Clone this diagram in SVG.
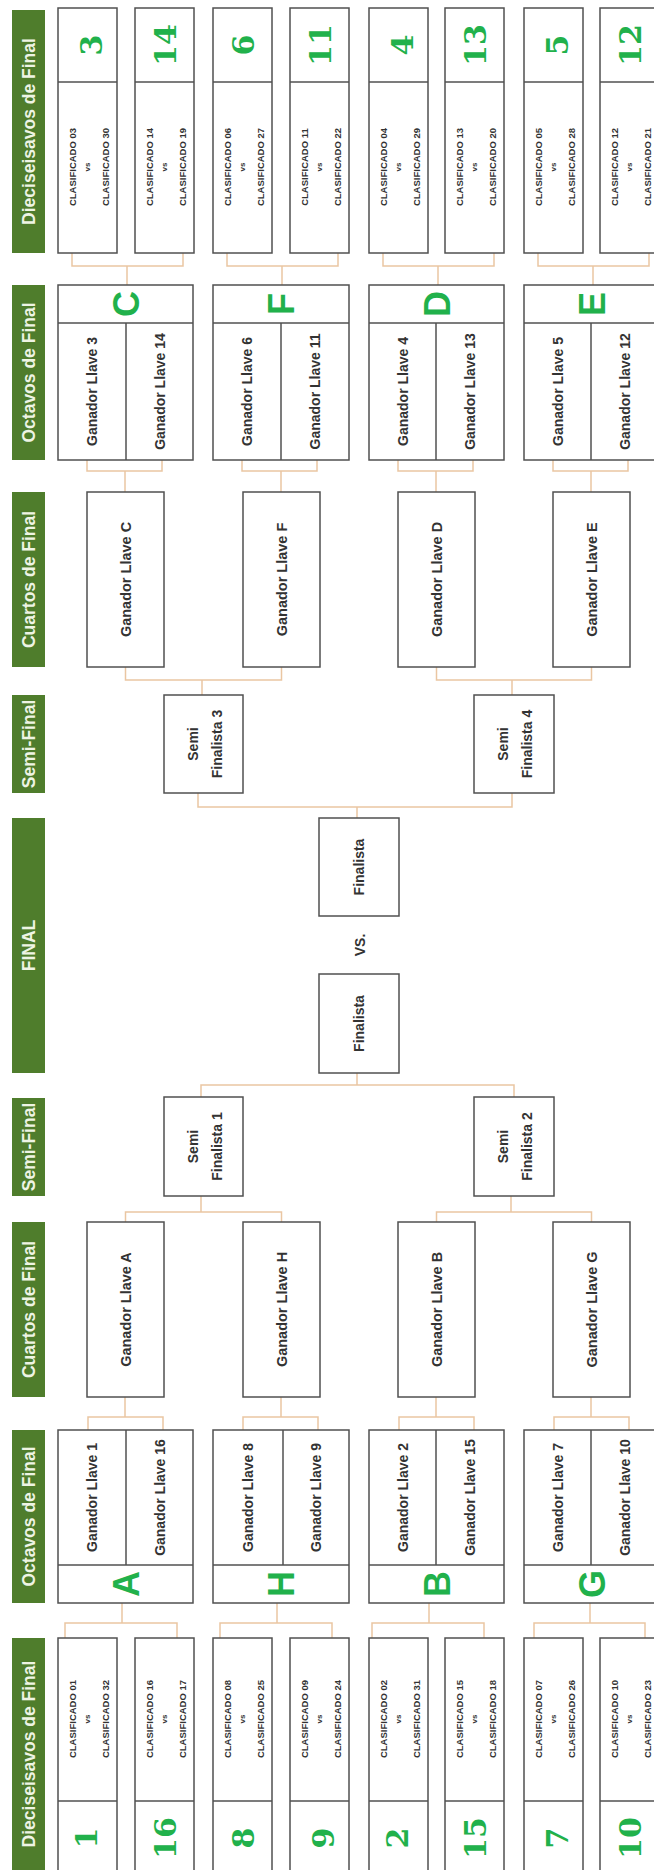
<svg xmlns="http://www.w3.org/2000/svg" width="654" height="1870" viewBox="0 0 654 1870">
<style>
.hdr{fill:#4f7d2c}
.ht{font-family:"Liberation Sans",Arial,sans-serif;font-weight:bold;font-size:17.5px;fill:#eef4e4;text-anchor:middle}
.box{fill:#fff;stroke:#505050;stroke-width:1.5}
.ln{stroke:#505050;stroke-width:1.5;fill:none}
.cl{font-family:"Liberation Sans",Arial,sans-serif;font-weight:bold;font-size:9.5px;fill:#333;text-anchor:middle}
.vs{font-family:"Liberation Sans",Arial,sans-serif;font-weight:bold;font-size:8px;fill:#333;text-anchor:middle}
.num{font-family:"DejaVu Serif",serif;font-weight:bold;font-size:30px;fill:#21b14b;text-anchor:middle}
.let{font-family:"Liberation Sans",Arial,sans-serif;font-weight:bold;font-size:36px;fill:#21b14b;text-anchor:middle}
.g{font-family:"Liberation Sans",Arial,sans-serif;font-weight:bold;font-size:14px;fill:#333;text-anchor:middle}
.q{font-family:"Liberation Sans",Arial,sans-serif;font-weight:bold;font-size:14.5px;fill:#333;text-anchor:middle}
.con{fill:none;stroke:#eac6a2;stroke-width:1.5}
</style>
<rect width="654" height="1870" fill="#fff"/>

<g id="headers">
<rect class="hdr" x="12" y="10" width="33" height="243"/>
<text class="ht" transform="translate(35,131.5) rotate(-90)">Dieciseisavos de Final</text>
<rect class="hdr" x="12" y="285" width="33" height="175"/>
<text class="ht" transform="translate(35,372.5) rotate(-90)">Octavos de Final</text>
<rect class="hdr" x="12" y="492" width="33" height="175"/>
<text class="ht" transform="translate(35,579.5) rotate(-90)">Cuartos de Final</text>
<rect class="hdr" x="12" y="695" width="33" height="98"/>
<text class="ht" transform="translate(35,744) rotate(-90)">Semi-Final</text>
<rect class="hdr" x="12" y="818" width="33" height="255"/>
<text class="ht" transform="translate(35,945.5) rotate(-90)">FINAL</text>
<rect class="hdr" x="12" y="1098" width="33" height="98"/>
<text class="ht" transform="translate(35,1147) rotate(-90)">Semi-Final</text>
<rect class="hdr" x="12" y="1222" width="33" height="175"/>
<text class="ht" transform="translate(35,1309.5) rotate(-90)">Cuartos de Final</text>
<rect class="hdr" x="12" y="1430" width="33" height="173"/>
<text class="ht" transform="translate(35,1516.5) rotate(-90)">Octavos de Final</text>
<rect class="hdr" x="12" y="1638" width="33" height="242"/>
<text class="ht" transform="translate(35,1754) rotate(-90)">Dieciseisavos de Final</text>
</g>

<g id="connectors">
<!-- top dieciseisavos -> octavos -->
<path class="con" d="M72,253V266H183V253M127,266V285"/>
<path class="con" d="M227,253V266H338V253M282,266V285"/>
<path class="con" d="M383,253V266H494V253M438,266V285"/>
<path class="con" d="M538,253V266H649V253M593,266V285"/>
<!-- top octavos -> cuartos -->
<path class="con" d="M87,460V471H162V460M125,471V492"/>
<path class="con" d="M242,460V471H317V460M281,471V492"/>
<path class="con" d="M398,460V471H473V460M436,471V492"/>
<path class="con" d="M553,460V471H628V460M591,471V492"/>
<!-- top cuartos -> semi -->
<path class="con" d="M125.5,667V680H281.5V667M202,680V695"/>
<path class="con" d="M436.5,667V680H591.5V667M512,680V695"/>
<!-- semi -> final (top) -->
<path class="con" d="M198,793V807H512V793M357,807V818"/>
<!-- final -> semi (bottom) -->
<path class="con" d="M357,1073V1085M201,1097V1085H514V1097"/>
<!-- bottom semi -> cuartos -->
<path class="con" d="M201,1196V1212M125.5,1222V1212H281.5V1222"/>
<path class="con" d="M511,1196V1212M436.5,1222V1212H591.5V1222"/>
<!-- bottom cuartos -> octavos -->
<path class="con" d="M125,1397V1417M88,1430V1417H163V1430"/>
<path class="con" d="M281,1397V1417M243,1430V1417H318V1430"/>
<path class="con" d="M436,1397V1417M399,1430V1417H474V1430"/>
<path class="con" d="M591,1397V1417M554,1430V1417H629V1430"/>
<!-- bottom octavos -> dieciseisavos -->
<path class="con" d="M122,1603V1623M65,1638V1623H177V1638"/>
<path class="con" d="M277,1603V1623M220,1638V1623H332V1638"/>
<path class="con" d="M429,1603V1623M372,1638V1623H484V1638"/>
<path class="con" d="M590,1603V1623M534,1638V1623H645V1638"/>
</g>

<!-- TOP DIECISEISAVOS -->
<g id="d3">
<rect class="box" x="58" y="8" width="59" height="245"/><line class="ln" x1="58" y1="82" x2="117" y2="82"/>
<text class="num" transform="translate(101.5,45) rotate(-90)">3</text>
<text class="cl" transform="translate(75.5,167) rotate(-90)">CLASIFICADO 03</text>
<text class="vs" transform="translate(90,167) rotate(-90)">vs</text>
<text class="cl" transform="translate(108.5,167) rotate(-90)">CLASIFICADO 30</text>
</g>
<g id="d14">
<rect class="box" x="135" y="8" width="59" height="245"/><line class="ln" x1="135" y1="82" x2="194" y2="82"/>
<text class="num" transform="translate(175.5,45) rotate(-90)">14</text>
<text class="cl" transform="translate(152.5,167) rotate(-90)">CLASIFICADO 14</text>
<text class="vs" transform="translate(167,167) rotate(-90)">vs</text>
<text class="cl" transform="translate(185.5,167) rotate(-90)">CLASIFICADO 19</text>
</g>
<g id="d6">
<rect class="box" x="213" y="8" width="59" height="245"/><line class="ln" x1="213" y1="82" x2="272" y2="82"/>
<text class="num" transform="translate(253.5,45) rotate(-90)">6</text>
<text class="cl" transform="translate(230.5,167) rotate(-90)">CLASIFICADO 06</text>
<text class="vs" transform="translate(245,167) rotate(-90)">vs</text>
<text class="cl" transform="translate(263.5,167) rotate(-90)">CLASIFICADO 27</text>
</g>
<g id="d11">
<rect class="box" x="290" y="8" width="59" height="245"/><line class="ln" x1="290" y1="82" x2="349" y2="82"/>
<text class="num" transform="translate(330.5,45) rotate(-90)">11</text>
<text class="cl" transform="translate(307.5,167) rotate(-90)">CLASIFICADO 11</text>
<text class="vs" transform="translate(322,167) rotate(-90)">vs</text>
<text class="cl" transform="translate(340.5,167) rotate(-90)">CLASIFICADO 22</text>
</g>
<g id="d4">
<rect class="box" x="369" y="8" width="59" height="245"/><line class="ln" x1="369" y1="82" x2="428" y2="82"/>
<text class="num" transform="translate(412.5,45) rotate(-90)">4</text>
<text class="cl" transform="translate(386.5,167) rotate(-90)">CLASIFICADO 04</text>
<text class="vs" transform="translate(401,167) rotate(-90)">vs</text>
<text class="cl" transform="translate(419.5,167) rotate(-90)">CLASIFICADO 29</text>
</g>
<g id="d13">
<rect class="box" x="445" y="8" width="59" height="245"/><line class="ln" x1="445" y1="82" x2="504" y2="82"/>
<text class="num" transform="translate(485.5,45) rotate(-90)">13</text>
<text class="cl" transform="translate(462.5,167) rotate(-90)">CLASIFICADO 13</text>
<text class="vs" transform="translate(477,167) rotate(-90)">vs</text>
<text class="cl" transform="translate(495.5,167) rotate(-90)">CLASIFICADO 20</text>
</g>
<g id="d5">
<rect class="box" x="524" y="8" width="59" height="245"/><line class="ln" x1="524" y1="82" x2="583" y2="82"/>
<text class="num" transform="translate(567.5,45) rotate(-90)">5</text>
<text class="cl" transform="translate(541.5,167) rotate(-90)">CLASIFICADO 05</text>
<text class="vs" transform="translate(556,167) rotate(-90)">vs</text>
<text class="cl" transform="translate(574.5,167) rotate(-90)">CLASIFICADO 28</text>
</g>
<g id="d12">
<rect class="box" x="600" y="8" width="59" height="245"/><line class="ln" x1="600" y1="82" x2="659" y2="82"/>
<text class="num" transform="translate(640.5,45) rotate(-90)">12</text>
<text class="cl" transform="translate(617.5,167) rotate(-90)">CLASIFICADO 12</text>
<text class="vs" transform="translate(632,167) rotate(-90)">vs</text>
<text class="cl" transform="translate(650.5,167) rotate(-90)">CLASIFICADO 21</text>
</g>

<!-- TOP OCTAVOS -->
<g id="oC">
<rect class="box" x="58" y="285" width="135" height="175"/>
<line class="ln" x1="58" y1="323" x2="193" y2="323"/><line class="ln" x1="126" y1="323" x2="126" y2="460"/>
<text class="let" transform="translate(138.5,304) rotate(-90)">C</text>
<text class="g" transform="translate(97,391.5) rotate(-90)">Ganador Llave 3</text>
<text class="g" transform="translate(164.5,391.5) rotate(-90)">Ganador Llave 14</text>
</g>
<g id="oF">
<rect class="box" x="213" y="285" width="136" height="175"/>
<line class="ln" x1="213" y1="323" x2="349" y2="323"/><line class="ln" x1="281" y1="323" x2="281" y2="460"/>
<text class="let" transform="translate(294,304) rotate(-90)">F</text>
<text class="g" transform="translate(252,391.5) rotate(-90)">Ganador Llave 6</text>
<text class="g" transform="translate(320,391.5) rotate(-90)">Ganador Llave 11</text>
</g>
<g id="oD">
<rect class="box" x="369" y="285" width="135" height="175"/>
<line class="ln" x1="369" y1="323" x2="504" y2="323"/><line class="ln" x1="436" y1="323" x2="436" y2="460"/>
<text class="let" transform="translate(449.5,304) rotate(-90)">D</text>
<text class="g" transform="translate(407.5,391.5) rotate(-90)">Ganador Llave 4</text>
<text class="g" transform="translate(475,391.5) rotate(-90)">Ganador Llave 13</text>
</g>
<g id="oE">
<rect class="box" x="524" y="285" width="135" height="175"/>
<line class="ln" x1="524" y1="323" x2="659" y2="323"/><line class="ln" x1="591" y1="323" x2="591" y2="460"/>
<text class="let" transform="translate(604.5,304) rotate(-90)">E</text>
<text class="g" transform="translate(562.5,391.5) rotate(-90)">Ganador Llave 5</text>
<text class="g" transform="translate(630,391.5) rotate(-90)">Ganador Llave 12</text>
</g>

<!-- TOP CUARTOS -->
<g id="qC"><rect class="box" x="87" y="492" width="77" height="175"/>
<text class="q" transform="translate(131,579.5) rotate(-90)">Ganador Llave C</text></g>
<g id="qF"><rect class="box" x="243" y="492" width="77" height="175"/>
<text class="q" transform="translate(286.5,579.5) rotate(-90)">Ganador Llave F</text></g>
<g id="qD"><rect class="box" x="398" y="492" width="77" height="175"/>
<text class="q" transform="translate(441.5,579.5) rotate(-90)">Ganador Llave D</text></g>
<g id="qE"><rect class="box" x="553" y="492" width="77" height="175"/>
<text class="q" transform="translate(596.5,579.5) rotate(-90)">Ganador Llave E</text></g>

<!-- TOP SEMIS -->
<g id="s3"><rect class="box" x="164" y="695" width="79" height="98"/>
<text class="g" transform="translate(198,744) rotate(-90)">Semi</text>
<text class="g" transform="translate(222,744) rotate(-90)">Finalista 3</text></g>
<g id="s4"><rect class="box" x="474" y="695" width="80" height="98"/>
<text class="g" transform="translate(508,744) rotate(-90)">Semi</text>
<text class="g" transform="translate(532,744) rotate(-90)">Finalista 4</text></g>

<!-- FINAL -->
<g id="f1"><rect class="box" x="319" y="818" width="80" height="98"/>
<text class="g" transform="translate(364,867) rotate(-90)">Finalista</text></g>
<g id="vs"><text class="g" transform="translate(365,945) rotate(-90)">VS.</text></g>
<g id="f2"><rect class="box" x="319" y="974" width="80" height="99"/>
<text class="g" transform="translate(364,1023.5) rotate(-90)">Finalista</text></g>

<!-- BOTTOM SEMIS -->
<g id="s1"><rect class="box" x="164" y="1097" width="79" height="99"/>
<text class="g" transform="translate(198,1146.5) rotate(-90)">Semi</text>
<text class="g" transform="translate(222,1146.5) rotate(-90)">Finalista 1</text></g>
<g id="s2"><rect class="box" x="474" y="1097" width="80" height="99"/>
<text class="g" transform="translate(508,1146.5) rotate(-90)">Semi</text>
<text class="g" transform="translate(532,1146.5) rotate(-90)">Finalista 2</text></g>

<!-- BOTTOM CUARTOS -->
<g id="qA"><rect class="box" x="87" y="1222" width="77" height="175"/>
<text class="q" transform="translate(131,1309.5) rotate(-90)">Ganador Llave A</text></g>
<g id="qH"><rect class="box" x="243" y="1222" width="77" height="175"/>
<text class="q" transform="translate(286.5,1309.5) rotate(-90)">Ganador Llave H</text></g>
<g id="qB"><rect class="box" x="398" y="1222" width="77" height="175"/>
<text class="q" transform="translate(441.5,1309.5) rotate(-90)">Ganador Llave B</text></g>
<g id="qG"><rect class="box" x="553" y="1222" width="77" height="175"/>
<text class="q" transform="translate(596.5,1309.5) rotate(-90)">Ganador Llave G</text></g>

<!-- BOTTOM OCTAVOS -->
<g id="oA">
<rect class="box" x="58" y="1430" width="135" height="173"/>
<line class="ln" x1="58" y1="1565" x2="193" y2="1565"/><line class="ln" x1="126" y1="1430" x2="126" y2="1565"/>
<text class="let" transform="translate(138.5,1584) rotate(-90)">A</text>
<text class="g" transform="translate(97,1497.5) rotate(-90)">Ganador Llave 1</text>
<text class="g" transform="translate(164.5,1497.5) rotate(-90)">Ganador Llave 16</text>
</g>
<g id="oH">
<rect class="box" x="213" y="1430" width="136" height="173"/>
<line class="ln" x1="213" y1="1565" x2="349" y2="1565"/><line class="ln" x1="283" y1="1430" x2="283" y2="1565"/>
<text class="let" transform="translate(294,1584) rotate(-90)">H</text>
<text class="g" transform="translate(253,1497.5) rotate(-90)">Ganador Llave 8</text>
<text class="g" transform="translate(321,1497.5) rotate(-90)">Ganador Llave 9</text>
</g>
<g id="oB">
<rect class="box" x="369" y="1430" width="135" height="173"/>
<line class="ln" x1="369" y1="1565" x2="504" y2="1565"/><line class="ln" x1="436" y1="1430" x2="436" y2="1565"/>
<text class="let" transform="translate(449.5,1584) rotate(-90)">B</text>
<text class="g" transform="translate(407.5,1497.5) rotate(-90)">Ganador Llave 2</text>
<text class="g" transform="translate(475,1497.5) rotate(-90)">Ganador Llave 15</text>
</g>
<g id="oG">
<rect class="box" x="524" y="1430" width="135" height="173"/>
<line class="ln" x1="524" y1="1565" x2="659" y2="1565"/><line class="ln" x1="591" y1="1430" x2="591" y2="1565"/>
<text class="let" transform="translate(604.5,1584) rotate(-90)">G</text>
<text class="g" transform="translate(562.5,1497.5) rotate(-90)">Ganador Llave 7</text>
<text class="g" transform="translate(630,1497.5) rotate(-90)">Ganador Llave 10</text>
</g>

<!-- BOTTOM DIECISEISAVOS -->
<g id="d1">
<rect class="box" x="58" y="1638" width="59" height="240"/><line class="ln" x1="58" y1="1801" x2="117" y2="1801"/>
<text class="num" transform="translate(96.5,1838) rotate(-90)">1</text>
<text class="cl" transform="translate(75.5,1719) rotate(-90)">CLASIFICADO 01</text>
<text class="vs" transform="translate(90,1719) rotate(-90)">vs</text>
<text class="cl" transform="translate(108.5,1719) rotate(-90)">CLASIFICADO 32</text>
</g>
<g id="d16">
<rect class="box" x="135" y="1638" width="59" height="240"/><line class="ln" x1="135" y1="1801" x2="194" y2="1801"/>
<text class="num" transform="translate(175.5,1838) rotate(-90)">16</text>
<text class="cl" transform="translate(152.5,1719) rotate(-90)">CLASIFICADO 16</text>
<text class="vs" transform="translate(167,1719) rotate(-90)">vs</text>
<text class="cl" transform="translate(185.5,1719) rotate(-90)">CLASIFICADO 17</text>
</g>
<g id="d8">
<rect class="box" x="213" y="1638" width="59" height="240"/><line class="ln" x1="213" y1="1801" x2="272" y2="1801"/>
<text class="num" transform="translate(253.5,1838) rotate(-90)">8</text>
<text class="cl" transform="translate(230.5,1719) rotate(-90)">CLASIFICADO 08</text>
<text class="vs" transform="translate(245,1719) rotate(-90)">vs</text>
<text class="cl" transform="translate(263.5,1719) rotate(-90)">CLASIFICADO 25</text>
</g>
<g id="d9">
<rect class="box" x="290" y="1638" width="59" height="240"/><line class="ln" x1="290" y1="1801" x2="349" y2="1801"/>
<text class="num" transform="translate(333.5,1838) rotate(-90)">9</text>
<text class="cl" transform="translate(307.5,1719) rotate(-90)">CLASIFICADO 09</text>
<text class="vs" transform="translate(322,1719) rotate(-90)">vs</text>
<text class="cl" transform="translate(340.5,1719) rotate(-90)">CLASIFICADO 24</text>
</g>
<g id="d2">
<rect class="box" x="369" y="1638" width="59" height="240"/><line class="ln" x1="369" y1="1801" x2="428" y2="1801"/>
<text class="num" transform="translate(407.5,1838) rotate(-90)">2</text>
<text class="cl" transform="translate(386.5,1719) rotate(-90)">CLASIFICADO 02</text>
<text class="vs" transform="translate(401,1719) rotate(-90)">vs</text>
<text class="cl" transform="translate(419.5,1719) rotate(-90)">CLASIFICADO 31</text>
</g>
<g id="d15">
<rect class="box" x="445" y="1638" width="59" height="240"/><line class="ln" x1="445" y1="1801" x2="504" y2="1801"/>
<text class="num" transform="translate(485.5,1838) rotate(-90)">15</text>
<text class="cl" transform="translate(462.5,1719) rotate(-90)">CLASIFICADO 15</text>
<text class="vs" transform="translate(477,1719) rotate(-90)">vs</text>
<text class="cl" transform="translate(495.5,1719) rotate(-90)">CLASIFICADO 18</text>
</g>
<g id="d7">
<rect class="box" x="524" y="1638" width="59" height="240"/><line class="ln" x1="524" y1="1801" x2="583" y2="1801"/>
<text class="num" transform="translate(567.5,1838) rotate(-90)">7</text>
<text class="cl" transform="translate(541.5,1719) rotate(-90)">CLASIFICADO 07</text>
<text class="vs" transform="translate(556,1719) rotate(-90)">vs</text>
<text class="cl" transform="translate(574.5,1719) rotate(-90)">CLASIFICADO 26</text>
</g>
<g id="d10">
<rect class="box" x="600" y="1638" width="59" height="240"/><line class="ln" x1="600" y1="1801" x2="659" y2="1801"/>
<text class="num" transform="translate(640.5,1838) rotate(-90)">10</text>
<text class="cl" transform="translate(617.5,1719) rotate(-90)">CLASIFICADO 10</text>
<text class="vs" transform="translate(632,1719) rotate(-90)">vs</text>
<text class="cl" transform="translate(650.5,1719) rotate(-90)">CLASIFICADO 23</text>
</g>
</svg>
